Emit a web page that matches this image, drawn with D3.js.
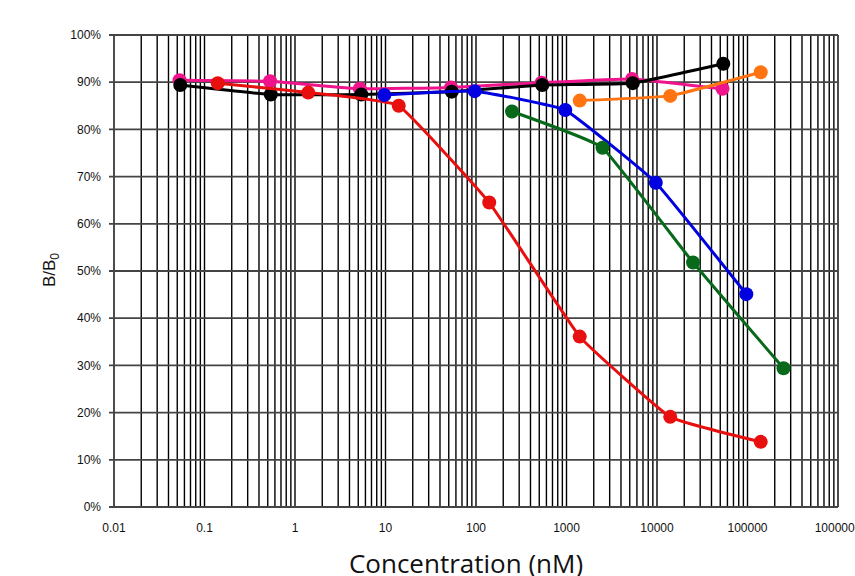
<!DOCTYPE html>
<html>
<head>
<meta charset="utf-8">
<script src="https://cdn.jsdelivr.net/npm/d3@7"></script>
<style>
  body { margin: 0; background: #fff; }
  svg { display: block; }
  text { font-family: "Liberation Sans", Arial, sans-serif; fill: #111; }
</style>
</head>
<body>
<div id="chart"></div>
<script>
// tick labels
var xTicks = [0.01, 0.1, 1, 10, 100, 1000, 10000, 100000, 1000000];
var yTicks = [0, 0.1, 0.2, 0.3, 0.4, 0.5, 0.6, 0.7, 0.8, 0.9, 1.0];

// series (concentration nM, B/B0)
var pinkX = [0.053, 0.53, 5.2, 53, 530, 5300, 53000];
var pinkY = [0.904, 0.902, 0.886, 0.889, 0.899, 0.907, 0.886];
var blackX = [0.054, 0.54, 5.4, 54, 540, 5400, 54000];
var blackY = [0.894, 0.874, 0.874, 0.880, 0.894, 0.898, 0.939];
var redX = [0.14, 1.4, 14, 140, 1400, 14000, 140000];
var redY = [0.898, 0.878, 0.850, 0.645, 0.361, 0.191, 0.138];
var blueX = [9.7, 97, 970, 9700, 97000];
var blueY = [0.873, 0.881, 0.841, 0.687, 0.451];
var greenX = [250, 2500, 25000, 250000];
var greenY = [0.838, 0.761, 0.518, 0.294];
var orangeX = [1400, 14000, 140000];
var orangeY = [0.861, 0.871, 0.921];

var w = 855, h = 576;
var pLeft = 114, pRight = 838, pTop = 35, pBottom = 507;

var series = [
  {x: pinkX, y: pinkY, color: "#f0148c"},
  {x: blackX, y: blackY, color: "#000000"},
  {x: redX, y: redY, color: "#e8100f"},
  {x: blueX, y: blueY, color: "#0000e0"},
  {x: greenX, y: greenY, color: "#08691a"},
  {x: orangeX, y: orangeY, color: "#ff7410"}
];

var x = d3.scaleLog().domain([0.01, 1000000]).range([pLeft, pRight]);
var y = d3.scaleLinear().domain([0, 1]).range([pBottom, pTop]);

var svg = d3.select("#chart")
      .append("svg")
      .attr("width", w)
      .attr("height", h);

// minor + major vertical grid
var vLines = [];
for (var e = -2; e < 6; e++) {
  for (var k = 1; k < 10; k++) vLines.push(k * Math.pow(10, e));
}
vLines.push(1000000);

svg.append("g").selectAll("line")
    .data(vLines)
    .enter()
    .append("line")
    .attr("x1", function(d) { return x(d); })
    .attr("x2", function(d) { return x(d); })
    .attr("y1", pTop)
    .attr("y2", pBottom)
    .attr("stroke", "#000")
    .attr("stroke-width", 1.4);

// horizontal grid
svg.append("g").selectAll("line")
    .data(yTicks)
    .enter()
    .append("line")
    .attr("x1", pLeft - 5)
    .attr("x2", pRight)
    .attr("y1", function(d) { return y(d); })
    .attr("y2", function(d) { return y(d); })
    .attr("stroke", "#444")
    .attr("stroke-width", 1.8);

// y axis labels
svg.append("g").selectAll("text")
    .data(yTicks)
    .enter()
    .append("text")
    .attr("x", pLeft - 13)
    .attr("y", function(d) { return y(d); })
    .attr("dy", "0.35em")
    .attr("text-anchor", "end")
    .style("font-size", "12px")
    .text(function(d) { return Math.round(d * 100) + "%"; });

// x axis labels
svg.append("g").selectAll("text")
    .data(xTicks)
    .enter()
    .append("text")
    .attr("x", function(d) { return x(d); })
    .attr("y", 532)
    .attr("text-anchor", "middle")
    .style("font-size", "12px")
    .text(function(d) { return d3.format("~f")(d); });

// axis titles
svg.append("text")
    .attr("x", 466)
    .attr("y", 573)
    .attr("text-anchor", "middle")
    .style("font-family", "'Open Sans', sans-serif")
    .style("font-size", "26px")
    .text("Concentration (nM)");

var yl = svg.append("text")
    .attr("transform", "translate(55,270) rotate(-90)")
    .attr("text-anchor", "middle")
    .style("font-size", "17px");
yl.append("tspan").text("B/B");
yl.append("tspan").attr("dy", 4).style("font-size", "12px").text("0");

// lines and markers
var line = d3.line()
    .x(function(d) { return x(d[0]); })
    .y(function(d) { return y(d[1]); })
    .curve(d3.curveCardinal.tension(0.7));

series.forEach(function(s) {
  var pts = s.x.map(function(v, i) { return [v, s.y[i]]; });
  var g = svg.append("g");
  g.append("path")
      .attr("d", line(pts))
      .attr("fill", "none")
      .attr("stroke", s.color)
      .attr("stroke-width", 3);
  g.selectAll("circle")
      .data(pts)
      .enter()
      .append("circle")
      .attr("cx", function(d) { return x(d[0]); })
      .attr("cy", function(d) { return y(d[1]); })
      .attr("r", 7)
      .attr("fill", s.color);
});
</script>
</body>
</html>
